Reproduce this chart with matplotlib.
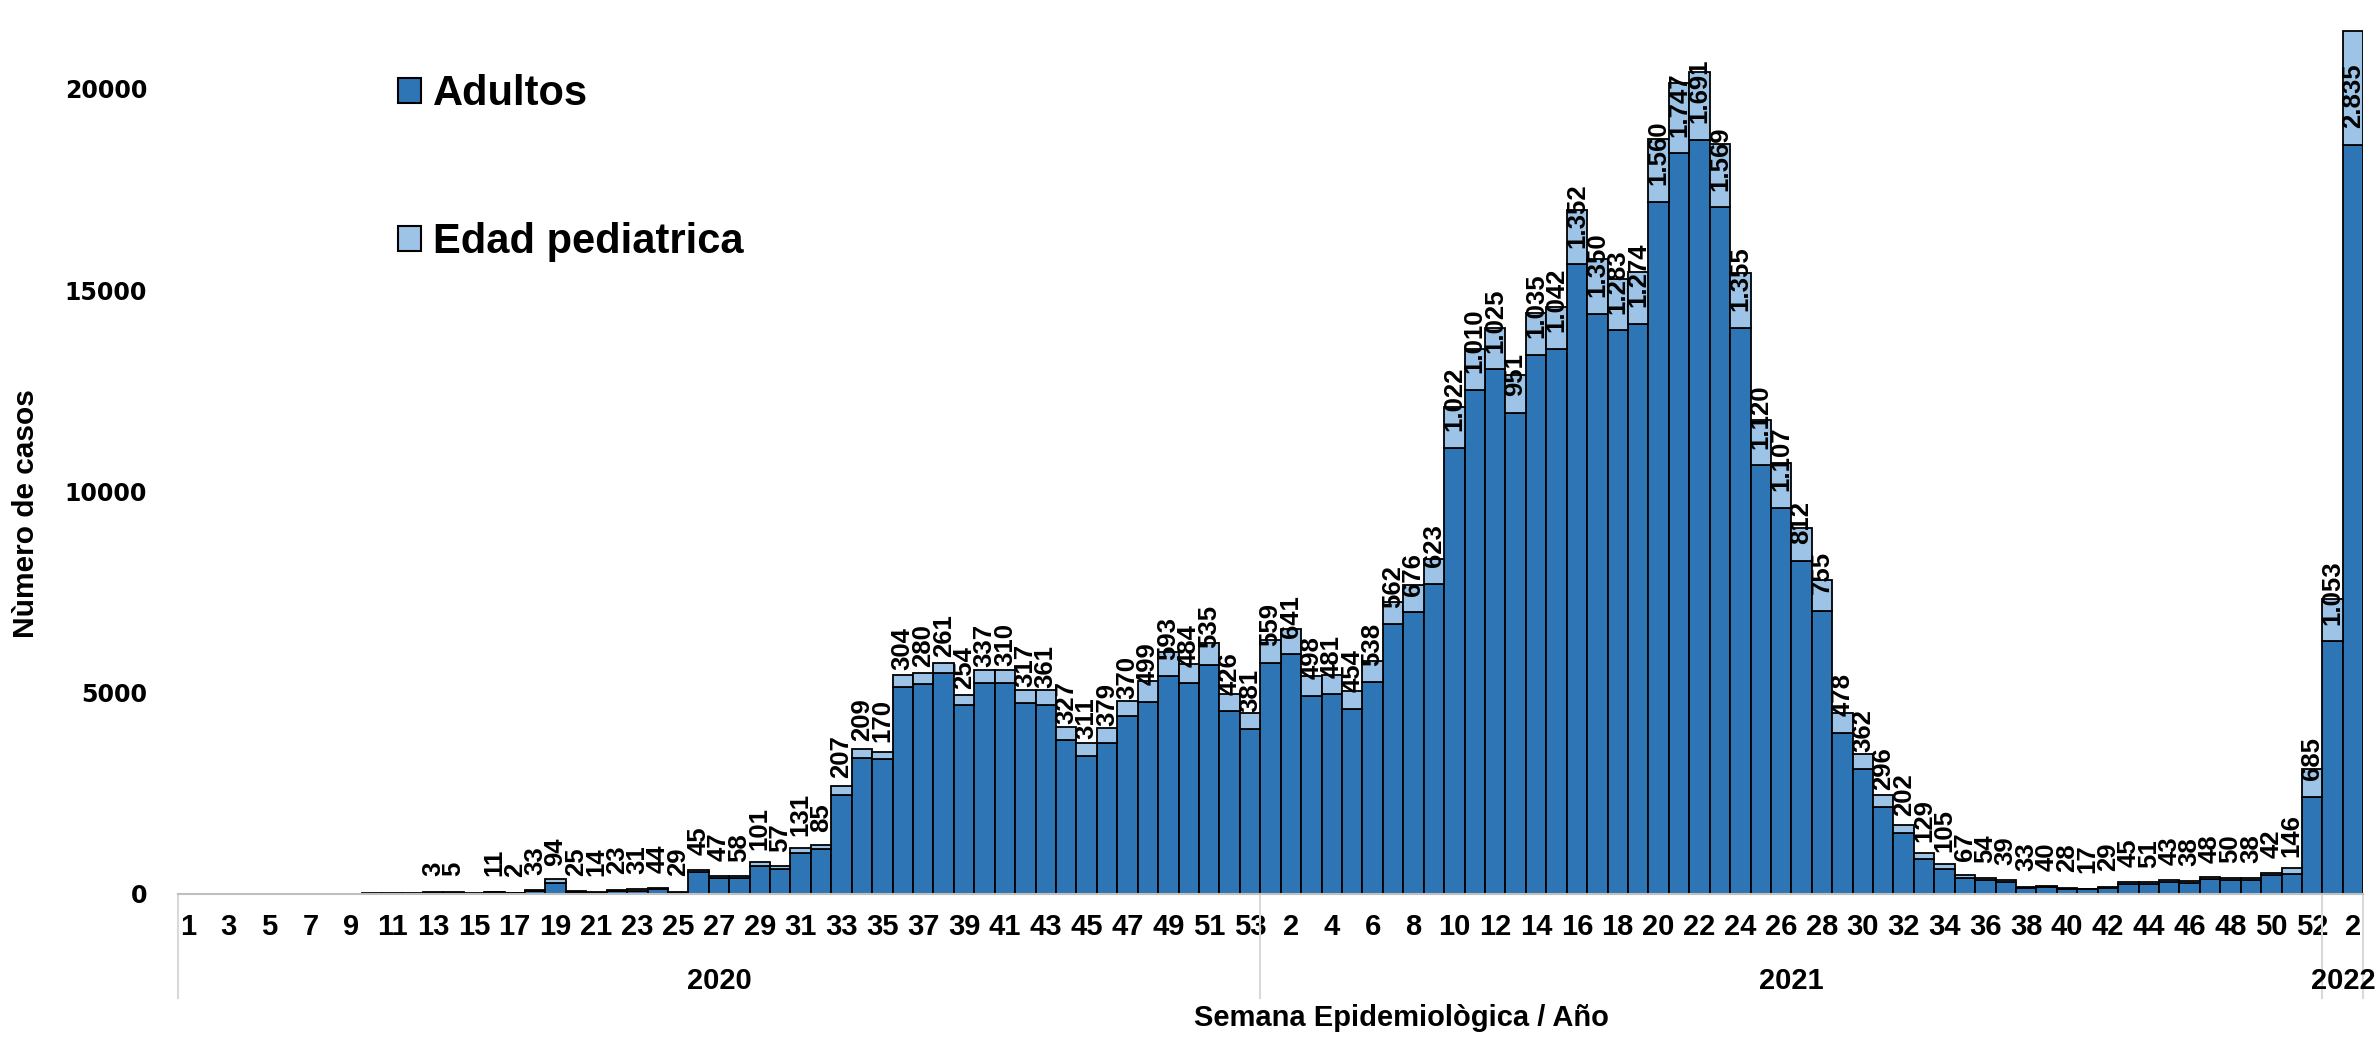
import numpy as np
import matplotlib
matplotlib.use("Agg")
import matplotlib.pyplot as plt
from matplotlib import font_manager
from matplotlib.transforms import blended_transform_factory

# semanas: 2020 (1-53), 2021 (1-52), 2022 (1-2)
semanas = list(range(1, 54)) + list(range(1, 53)) + [1, 2]
anios = ["2020", "2021", "2022"]

adultos = [
    0, 0, 0, 0, 0, 0, 0, 0, 0, 15, 20, 25, 37, 35, 25, 44, 18, 67, 270, 41,
    36, 77, 85, 113, 29, 551, 408, 389, 690, 630, 1015, 1120, 2470, 3390, 3350,
    5140, 5220, 5480, 4690, 5230, 5250, 4740, 4700, 3820, 3430, 3750, 4430,
    4780, 5410, 5230, 5690, 4540, 4110,
    # 2021
    5740, 5950, 4920, 4960, 4600, 5260, 6700, 7000, 7700, 11080, 12520, 13030,
    11950, 13400, 13550, 15640, 14420, 14000, 14170, 17200, 18400, 18730, 17060,
    14060, 10650, 9600, 8270, 7040, 4010, 3108, 2163, 1512, 881, 632, 405, 352,
    309, 149, 167, 129, 115, 145, 245, 239, 305, 285, 366, 347, 351, 471, 508,
    2412,
    # 2022
    6275, 18605,
]

pediatrica = [
    0, 0, 0, 0, 0, 0, 0, 0, 0, 0, 0, 0, 3, 5, 0, 11, 2, 33, 94, 25,
    14, 23, 31, 44, 29, 45, 47, 58, 101, 57, 131, 85, 207, 209, 170,
    304, 280, 261, 254, 337, 310, 317, 361, 327, 311, 379, 370,
    499, 593, 484, 535, 426, 381,
    # 2021
    559, 641, 498, 481, 454, 538, 562, 676, 623, 1022, 1010, 1025,
    951, 1035, 1042, 1352, 1350, 1283, 1274, 1560, 1747, 1691, 1569,
    1355, 1120, 1107, 812, 755, 478, 362, 296, 202, 129, 105, 67, 54,
    39, 33, 40, 28, 17, 29, 45, 51, 43, 38, 48, 50, 38, 42, 146,
    685,
    # 2022
    1053, 2835,
]

n_anio = [53, 52, 2]

nombres = {f.name for f in font_manager.fontManager.ttflist}
narrow = "Liberation Sans Narrow" if "Liberation Sans Narrow" in nombres else "Liberation Sans"

oscuro = "#2E75B6"
claro = "#9DC3E6"

fig = plt.figure(figsize=(23.79, 10.37), dpi=100)
ax = fig.add_axes([0.0747, 0.1379, 0.9934 - 0.0747, 0.9725 - 0.1379])

x = np.arange(len(semanas))
ad = np.array(adultos)
pe = np.array(pediatrica)
lw_a = [1.3 if v > 0 else 0 for v in ad]
lw_p = [1.3 if v > 0 else 0 for v in pe]

ax.bar(x, ad, width=1.0, color=oscuro, edgecolor="black", linewidth=lw_a, label="Adultos")
ax.bar(x, pe, bottom=ad, width=1.0, color=claro, edgecolor="black", linewidth=lw_p,
       label="Edad pediatrica")

# etiquetas de pediatria
for i in range(len(x)):
    if pe[i] > 0:
        txt = f"{pe[i]:,}".replace(",", ".")
        ax.annotate(txt, (x[i], ad[i]), xytext=(0, 12), textcoords="offset points",
                    rotation=90, ha="center", va="bottom", fontsize=18.5,
                    fontweight="bold", family="Liberation Sans")

ax.set_xlim(-0.5, len(x) - 0.5)
ax.set_ylim(0, 21500)
ax.set_yticks([0, 5000, 10000, 15000, 20000])
ax.set_yticklabels(["0", "5000", "10000", "15000", "20000"], fontsize=17,
                   fontweight="bold", family="DejaVu Sans")
ax.tick_params(axis="y", length=0, pad=22)

ax.set_xticks(x[::2])
ax.set_xticklabels([str(s) for s in semanas[::2]], fontsize=21, fontweight="bold",
                   family=narrow)
ax.tick_params(axis="x", length=0, pad=14)

for s in ["top", "right", "left"]:
    ax.spines[s].set_visible(False)
ax.spines["bottom"].set_color("#BFBFBF")
ax.spines["bottom"].set_linewidth(1.5)

# grupos de anio
tr = blended_transform_factory(ax.transData, ax.transAxes)
limites = np.concatenate([[0], np.cumsum(n_anio)]) - 0.5
for b in limites:
    ax.plot([b, b], [0, -0.12], transform=tr, color="#D9D9D9", lw=1.5, clip_on=False)
for k, a in enumerate(anios):
    centro = (limites[k] + limites[k + 1]) / 2
    ax.text(centro, -0.1, a, transform=tr, ha="center", va="center", fontsize=21,
            fontweight="bold", family=narrow)

fig.text(0.589, 0.018, "Semana Epidemiològica / Año", ha="center", va="center",
         fontsize=21, fontweight="bold", family=narrow)
fig.text(0.011, 0.505, "Nùmero de casos", ha="center", va="center", rotation=90,
         fontsize=21.5, fontweight="bold", family=narrow)

leg = ax.legend(loc="upper left", bbox_to_anchor=(0.1673, 1 - 74 / 1037),
                bbox_transform=fig.transFigure, frameon=False, borderpad=0,
                borderaxespad=0,
                prop={"family": "Liberation Sans", "weight": "bold", "size": 30},
                handlelength=0.55, handleheight=0.55, handletextpad=0.3,
                labelspacing=2.6)
for h in leg.legend_handles:
    h.set_edgecolor("black")
    h.set_linewidth(1.5)

fig.savefig("out.png", dpi=100)
